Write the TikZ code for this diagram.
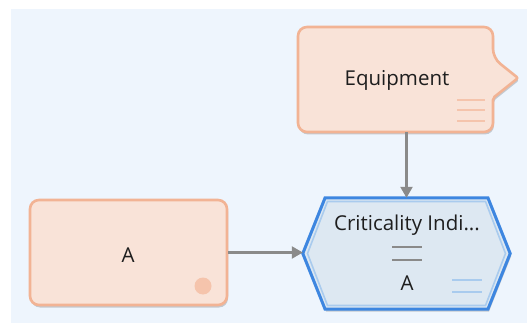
\documentclass[tikz,border=0pt]{standalone}
\usepackage{fontspec}
\setmainfont{Open Sans}
\usetikzlibrary{arrows.meta,shadows}
\definecolor{bgblue}{HTML}{EEF5FD}
\definecolor{boxfill}{HTML}{F9E3D8}
\definecolor{boxline}{HTML}{F2B394}
\definecolor{boxdeco}{HTML}{F5C4AC}
\definecolor{hexfill}{HTML}{DDE8F2}
\definecolor{hexline}{HTML}{3D86E0}
\definecolor{hexinner}{HTML}{A9CBEE}
\definecolor{arrowgray}{HTML}{8A8A8A}
\definecolor{txt}{HTML}{1E1E1E}
\tikzset{
  x=1pt, y=-1pt,
  anchorbox/.style={rectangle, draw=none, inner sep=0pt},
  shapeshadow/.style={drop shadow={shadow xshift=1pt, shadow yshift=-2.5pt, opacity=0.18, fill=black}},
  orangebox/.style={fill=boxfill, draw=boxline, line width=2.6pt, rounded corners=9pt, shapeshadow},
  conn/.style={draw=arrowgray, line width=2.3pt, -{Triangle[length=11pt,width=12pt]}},
  label/.style={font=\fontsize{20.5}{24}\selectfont, text=txt, inner sep=0pt},
}
\begin{document}
\begin{tikzpicture}
\useasboundingbox (0,0) rectangle (527,323);
\fill[bgblue] (11,9) rectangle (527,323);

% Equipment callout
\node[anchorbox, minimum width=195pt, minimum height=105pt] (eq) at (395.5,79.5) {};
\draw[orangebox] (298,80) -- (298,27) -- (493,27) -- (493,58) [rounded corners=2pt] -- (518,78) -- (493,98) [rounded corners=9pt] -- (493,132) -- (298,132) -- cycle;
\node[label] (eqtext) at (397,80) {Equipment};
\foreach \yy in {100,110,121}
  \draw[boxdeco, line width=1.4pt] (457,\yy) -- (485,\yy);

% A box
\node[anchorbox, minimum width=197pt, minimum height=105pt, orangebox] (a) at (128.5,252.5) {};
\node[label] (atext) at (128,255) {A};
\fill[boxdeco] (203,286) circle (8.5pt);

% Hexagon
\node[anchorbox, minimum width=207pt, minimum height=111pt] (hex) at (406.5,253.5) {};
\draw[fill=hexfill, draw=hexline, line width=3pt, line join=miter, shapeshadow]
  (hex.west) -- (325,198) -- (488,198) -- (hex.east) -- (488,309) -- (325,309) -- cycle;
\draw[hexinner, line width=1.6pt, line join=miter]
  (307.5,253.5) -- (327.5,201.5) -- (485.5,201.5) -- (505.5,253.5) -- (485.5,305.5) -- (327.5,305.5) -- cycle;
\node[label] (hextext) at (407,225) {Criticality Indi...};
\draw[arrowgray, line width=2.6pt] (392,247) -- (422,247);
\draw[arrowgray, line width=2.6pt] (392,260) -- (422,260);
\node[label] (hexa) at (407,283) {A};
\draw[hexinner, line width=1.4pt] (452,280) -- (482,280);
\draw[hexinner, line width=1.4pt] (452,292) -- (482,292);

% connectors
\draw[conn] (eq.south -| hex.north) -- (hex.north);
\draw[conn] (a.east) -- (a.east -| hex.west);
\end{tikzpicture}
\end{document}
